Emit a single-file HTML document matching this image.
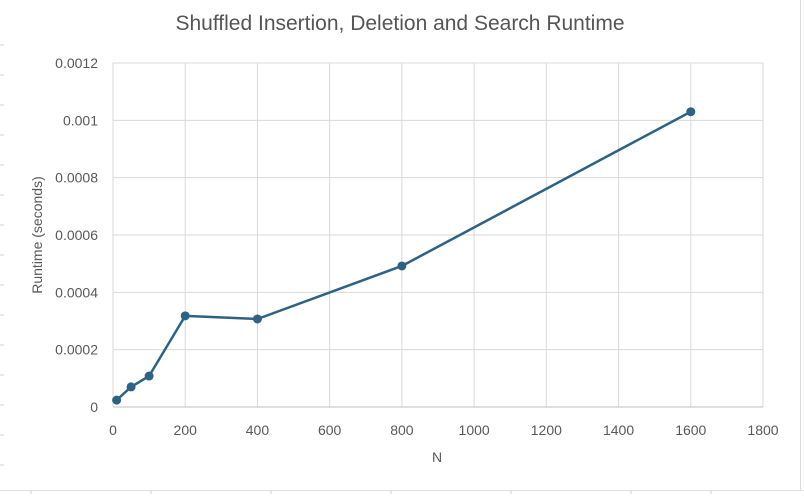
<!DOCTYPE html>
<html><head><meta charset="utf-8"><style>
body{margin:0;background:#fff;font-family:"Liberation Sans",sans-serif}
svg text{font-family:"Liberation Sans",sans-serif;fill:#595959}
</style></head><body>
<svg id="chart" width="804" height="494">
<rect x="0" y="0" width="804" height="494" fill="#fff"/>
<line x1="800.5" y1="0" x2="800.5" y2="490" stroke="#d9d9d9"/>
<line x1="0" y1="490.5" x2="804" y2="490.5" stroke="#e0e0e0"/>
<g id="edgeticks"></g>
<text x="400" y="30" text-anchor="middle" font-size="21" style="fill:#555">Shuffled Insertion, Deletion and Search Runtime</text>
<g id="grid"></g><g id="axes"></g><g id="series"></g>
<text x="437" y="462" text-anchor="middle" font-size="14">N</text>
<text transform="translate(42,235) rotate(-90)" text-anchor="middle" font-size="14">Runtime (seconds)</text>
</svg>
<script>
const xValues=[10,50,100,200,400,800,1600];
const yValues=[0.000024,0.00007,0.000108,0.000318,0.000307,0.000492,0.00103];
const xTicks=[0,200,400,600,800,1000,1200,1400,1600,1800];
const yTicks=[0,0.0002,0.0004,0.0006,0.0008,0.001,0.0012];
const yTickLabels=["0","0.0002","0.0004","0.0006","0.0008","0.001","0.0012"];
const X0=113,X1=763,Y0=407,Y1=63;
const sx=v=>X0+(v-0)/1800*(X1-X0);
const sy=v=>Y0-(v/0.0012)*(Y0-Y1);
const NS="http://www.w3.org/2000/svg";
const grid=document.getElementById('grid'),axes=document.getElementById('axes'),ser=document.getElementById('series'),et=document.getElementById('edgeticks');
function mk(t,a,p){const e=document.createElementNS(NS,t);for(const k in a)e.setAttribute(k,a[k]);p.appendChild(e);return e;}
for(let y=45;y<490;y+=30){const l=mk('line',{x1:0,x2:4,y1:y,y2:y,stroke:'#d0d0d0'},et);}
[31,151,271,391,511,631,711].forEach(x=>{const l=mk('line',{x1:x,x2:x,y1:490,y2:494,stroke:'#d0d0d0'},et);});
xTicks.forEach(v=>{
 const l=mk('line',{x1:sx(v),x2:sx(v),y1:Y1,y2:Y0,stroke:'#d9d9d9'},grid);
 
 
 const t=mk('text',{x:sx(v),y:Y0+28,'text-anchor':'middle','font-size':'14'},axes);t.textContent=v;
 
 
});
yTicks.forEach((v,i)=>{
 const l=mk('line',{x1:X0,x2:X1,y1:sy(v),y2:sy(v),stroke:'#d9d9d9'},grid);
 
 
 const t=mk('text',{x:X0-15,y:sy(v)+5,'text-anchor':'end','font-size':'14'},axes);t.textContent=yTickLabels[i];
 
 
});
const ax=mk('line',{x1:X0,x2:X1,y1:Y0,y2:Y0,stroke:'#bfbfbf'},axes);


const pts=xValues.map((x,i)=>sx(x)+','+sy(yValues[i])).join(' ');
const pl=mk('polyline',{points:pts,fill:'none',stroke:'#2e6285','stroke-width':'2.5','stroke-linejoin':'round'},ser);


xValues.forEach((x,i)=>{
 const c=mk('circle',{cx:sx(x),cy:sy(yValues[i]),r:4.5,fill:'#2e6285'},ser);
 
 
});
</script>
</body></html>
